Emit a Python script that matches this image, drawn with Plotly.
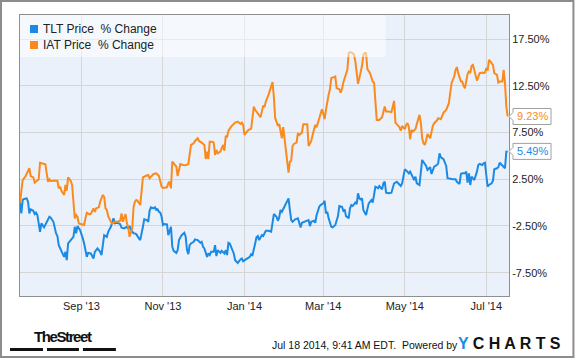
import plotly.graph_objects as go

# ---------------- data ----------------
tlt_name = "TLT Price\u00a0 % Change"
iat_name = "IAT Price\u00a0 % Change"

tlt_dates = [
    "2013-07-17", "2013-07-18", "2013-07-19", "2013-07-20", "2013-07-22", "2013-07-23", "2013-07-24", "2013-07-25",
    "2013-07-27", "2013-07-28", "2013-07-29", "2013-07-30", "2013-08-01", "2013-08-02", "2013-08-04", "2013-08-06",
    "2013-08-08", "2013-08-09", "2013-08-11", "2013-08-13", "2013-08-14", "2013-08-15", "2013-08-17", "2013-08-19",
    "2013-08-20", "2013-08-21", "2013-08-22", "2013-08-24", "2013-08-26", "2013-08-27", "2013-08-28", "2013-08-29",
    "2013-08-31", "2013-09-02", "2013-09-03", "2013-09-05", "2013-09-06", "2013-09-08", "2013-09-10", "2013-09-11",
    "2013-09-13", "2013-09-15", "2013-09-16", "2013-09-17", "2013-09-18", "2013-09-20", "2013-09-21", "2013-09-23",
    "2013-09-25", "2013-09-26", "2013-09-28", "2013-09-30", "2013-10-01", "2013-10-03", "2013-10-05", "2013-10-06",
    "2013-10-07", "2013-10-08", "2013-10-10", "2013-10-11", "2013-10-12", "2013-10-14", "2013-10-15", "2013-10-17",
    "2013-10-18", "2013-10-20", "2013-10-21", "2013-10-22", "2013-10-23", "2013-10-25", "2013-10-26", "2013-10-27",
    "2013-10-28", "2013-10-29", "2013-10-30", "2013-10-31", "2013-11-01", "2013-11-02", "2013-11-04", "2013-11-05",
    "2013-11-06", "2013-11-07", "2013-11-08", "2013-11-09", "2013-11-11", "2013-11-12", "2013-11-13", "2013-11-15",
    "2013-11-17", "2013-11-18", "2013-11-19", "2013-11-20", "2013-11-21", "2013-11-22", "2013-11-24", "2013-11-25",
    "2013-11-27", "2013-11-29", "2013-11-30", "2013-12-01", "2013-12-02", "2013-12-04", "2013-12-05", "2013-12-06",
    "2013-12-07", "2013-12-09", "2013-12-10", "2013-12-11", "2013-12-12", "2013-12-14", "2013-12-15", "2013-12-17",
    "2013-12-18", "2013-12-19", "2013-12-20", "2013-12-21", "2013-12-22", "2013-12-24", "2013-12-25", "2013-12-26",
    "2013-12-27", "2013-12-29", "2013-12-30", "2013-12-31", "2014-01-01", "2014-01-03", "2014-01-05", "2014-01-06",
    "2014-01-07", "2014-01-09", "2014-01-10", "2014-01-11", "2014-01-12", "2014-01-14", "2014-01-15", "2014-01-17",
    "2014-01-19", "2014-01-21", "2014-01-22", "2014-01-23", "2014-01-25", "2014-01-26", "2014-01-27", "2014-01-28",
    "2014-01-29", "2014-01-31", "2014-02-01", "2014-02-03", "2014-02-04", "2014-02-05", "2014-02-06", "2014-02-08",
    "2014-02-10", "2014-02-11", "2014-02-12", "2014-02-13", "2014-02-15", "2014-02-16", "2014-02-18", "2014-02-19",
    "2014-02-20", "2014-02-22", "2014-02-23", "2014-02-24", "2014-02-26", "2014-02-27", "2014-03-01", "2014-03-02",
    "2014-03-03", "2014-03-04", "2014-03-05", "2014-03-07", "2014-03-08", "2014-03-10", "2014-03-12", "2014-03-13",
    "2014-03-15", "2014-03-16", "2014-03-17", "2014-03-18", "2014-03-20", "2014-03-21", "2014-03-22", "2014-03-23",
    "2014-03-25", "2014-03-26", "2014-03-27", "2014-03-28", "2014-03-29", "2014-03-30", "2014-03-31", "2014-04-02",
    "2014-04-03", "2014-04-04", "2014-04-06", "2014-04-07", "2014-04-08", "2014-04-09", "2014-04-10", "2014-04-11",
    "2014-04-12", "2014-04-14", "2014-04-15", "2014-04-16", "2014-04-17", "2014-04-19", "2014-04-21", "2014-04-22",
    "2014-04-23", "2014-04-25", "2014-04-27", "2014-04-28", "2014-04-29", "2014-04-30", "2014-05-01", "2014-05-03",
    "2014-05-04", "2014-05-05", "2014-05-07", "2014-05-08", "2014-05-09", "2014-05-10", "2014-05-12", "2014-05-13",
    "2014-05-14", "2014-05-16", "2014-05-17", "2014-05-18", "2014-05-20", "2014-05-21", "2014-05-22", "2014-05-23",
    "2014-05-25", "2014-05-26", "2014-05-27", "2014-05-28", "2014-05-30", "2014-05-31", "2014-06-01", "2014-06-02",
    "2014-06-04", "2014-06-06", "2014-06-08", "2014-06-09", "2014-06-11", "2014-06-12", "2014-06-13", "2014-06-15",
    "2014-06-16", "2014-06-17", "2014-06-18", "2014-06-19", "2014-06-20", "2014-06-21", "2014-06-22", "2014-06-24",
    "2014-06-25", "2014-06-26", "2014-06-28", "2014-06-29", "2014-06-30", "2014-07-01", "2014-07-02", "2014-07-03",
    "2014-07-05", "2014-07-06", "2014-07-07", "2014-07-09", "2014-07-10", "2014-07-11", "2014-07-12", "2014-07-13",
    "2014-07-14", "2014-07-15", "2014-07-16", "2014-07-17",
]
tlt_values = [
    0.00, -1.15, 0.28, 0.39, 0.46, 0.10, -1.15, -0.72,
    -0.87, -1.22, -1.08, -1.33, -3.12, -2.22, -2.65, -2.05,
    -1.51, -1.62, -2.05, -3.29, -3.58, -4.55, -5.27, -5.81,
    -5.27, -6.16, -4.37, -4.01, -3.66, -2.59, -3.29, -2.51,
    -2.94, -3.83, -4.37, -5.81, -5.38, -5.44, -5.98, -5.27,
    -4.90, -5.27, -5.62, -4.55, -3.48, -3.66, -3.12, -2.59,
    -1.68, -2.22, -2.16, -2.30, -2.69, -2.76, -2.59, -2.76,
    -2.51, -2.87, -3.29, -3.30, -3.37, -3.83, -4.01, -2.59,
    -1.79, -1.87, -2.05, -0.87, -0.50, -0.61, -0.50, -0.79,
    -0.72, -0.98, -1.08, -1.51, -2.40, -2.30, -2.33, -3.48,
    -2.94, -2.59, -4.73, -5.16, -5.38, -5.09, -4.01, -3.48,
    -3.23, -3.66, -5.09, -5.52, -4.55, -4.37, -4.20, -3.94,
    -4.01, -4.30, -4.20, -4.73, -4.90, -5.81, -5.44, -5.62,
    -5.27, -5.27, -4.55, -5.73, -5.09, -5.38, -5.16, -5.44,
    -5.09, -5.62, -4.30, -4.37, -4.73, -5.44, -6.16, -6.34,
    -6.45, -6.08, -5.98, -6.27, -6.16, -6.02, -5.81, -5.52,
    -5.62, -4.37, -3.72, -3.58, -4.01, -3.48, -3.58, -3.02,
    -3.02, -3.12, -2.16, -1.22, -1.51, -1.94, -1.58, -0.79,
    -0.98, -0.44, 0.00, 0.46, -0.79, -1.87, -2.05, -1.79,
    -1.68, -2.16, -2.65, -2.16, -2.05, -1.94, -1.87, -2.51,
    -2.05, -1.94, -2.16, -1.33, -0.44, -0.26, -0.08, 0.20,
    -1.15, -0.98, -1.68, -2.59, -2.65, -2.40, -1.44, -0.36,
    -0.44, -0.87, -0.72, -1.44, -1.68, -0.61, -0.26, -0.36,
    0.00, -0.15, 1.00, 0.46, 0.35, 0.46, -0.79, -1.33,
    -0.61, -0.08, 0.28, 0.00, 0.82, 1.71, 1.64, 1.53,
    1.78, 1.43, 2.07, 2.24, 1.06, 1.00, 1.06, 1.53,
    2.07, 2.24, 2.00, 1.78, 2.07, 2.96, 3.57, 3.32,
    3.14, 3.32, 2.71, 2.42, 2.78, 2.07, 1.89, 2.96,
    4.57, 4.14, 3.93, 3.50, 3.79, 3.07, 3.50, 3.85,
    4.03, 4.22, 5.29, 4.86, 4.65, 4.28, 3.93, 2.61,
    2.53, 2.50, 2.50, 2.24, 2.00, 3.07, 3.14, 3.14,
    3.32, 2.14, 3.14, 1.89, 2.78, 2.61, 2.42, 3.32,
    4.03, 4.14, 4.03, 4.22, 4.28, 2.96, 1.71, 1.89,
    2.07, 2.35, 3.57, 3.68, 3.79, 4.28, 4.14, 4.03,
    3.85, 3.68, 5.46, 5.49,
]

iat_dates = [
    "2013-07-17", "2013-07-18", "2013-07-19", "2013-07-21", "2013-07-23", "2013-07-24", "2013-07-25", "2013-07-27",
    "2013-07-28", "2013-07-30", "2013-07-31", "2013-08-01", "2013-08-03", "2013-08-05", "2013-08-06", "2013-08-07",
    "2013-08-08", "2013-08-09", "2013-08-12", "2013-08-14", "2013-08-15", "2013-08-16", "2013-08-17", "2013-08-19",
    "2013-08-20", "2013-08-21", "2013-08-22", "2013-08-24", "2013-08-25", "2013-08-26", "2013-08-27", "2013-08-28",
    "2013-08-29", "2013-08-30", "2013-09-01", "2013-09-03", "2013-09-04", "2013-09-05", "2013-09-07", "2013-09-08",
    "2013-09-10", "2013-09-11", "2013-09-12", "2013-09-14", "2013-09-15", "2013-09-17", "2013-09-18", "2013-09-19",
    "2013-09-20", "2013-09-21", "2013-09-23", "2013-09-24", "2013-09-26", "2013-09-28", "2013-09-30", "2013-10-01",
    "2013-10-02", "2013-10-03", "2013-10-04", "2013-10-05", "2013-10-06", "2013-10-07", "2013-10-09", "2013-10-10",
    "2013-10-11", "2013-10-12", "2013-10-13", "2013-10-15", "2013-10-16", "2013-10-17", "2013-10-19", "2013-10-21",
    "2013-10-22", "2013-10-24", "2013-10-25", "2013-10-27", "2013-10-29", "2013-10-31", "2013-11-01", "2013-11-04",
    "2013-11-05", "2013-11-06", "2013-11-07", "2013-11-08", "2013-11-10", "2013-11-11", "2013-11-12", "2013-11-13",
    "2013-11-14", "2013-11-16", "2013-11-18", "2013-11-20", "2013-11-21", "2013-11-22", "2013-11-24", "2013-11-25",
    "2013-11-27", "2013-11-28", "2013-11-30", "2013-12-02", "2013-12-03", "2013-12-04", "2013-12-05", "2013-12-06",
    "2013-12-08", "2013-12-09", "2013-12-10", "2013-12-11", "2013-12-12", "2013-12-14", "2013-12-15", "2013-12-16",
    "2013-12-17", "2013-12-18", "2013-12-19", "2013-12-20", "2013-12-22", "2013-12-24", "2013-12-25", "2013-12-27",
    "2013-12-29", "2013-12-30", "2013-12-31", "2014-01-01", "2014-01-03", "2014-01-04", "2014-01-06", "2014-01-07",
    "2014-01-08", "2014-01-09", "2014-01-11", "2014-01-13", "2014-01-14", "2014-01-15", "2014-01-16", "2014-01-17",
    "2014-01-19", "2014-01-20", "2014-01-22", "2014-01-23", "2014-01-24", "2014-01-25", "2014-01-26", "2014-01-27",
    "2014-01-28", "2014-01-29", "2014-01-30", "2014-01-31", "2014-02-01", "2014-02-02", "2014-02-03", "2014-02-04",
    "2014-02-05", "2014-02-06", "2014-02-07", "2014-02-09", "2014-02-10", "2014-02-11", "2014-02-13", "2014-02-14",
    "2014-02-16", "2014-02-17", "2014-02-18", "2014-02-20", "2014-02-21", "2014-02-22", "2014-02-23", "2014-02-24",
    "2014-02-26", "2014-02-27", "2014-02-28", "2014-03-01", "2014-03-02", "2014-03-03", "2014-03-04", "2014-03-05",
    "2014-03-06", "2014-03-07", "2014-03-09", "2014-03-10", "2014-03-11", "2014-03-13", "2014-03-14", "2014-03-15",
    "2014-03-16", "2014-03-18", "2014-03-19", "2014-03-20", "2014-03-21", "2014-03-23", "2014-03-24", "2014-03-25",
    "2014-03-26", "2014-03-27", "2014-03-28", "2014-03-29", "2014-03-30", "2014-03-31", "2014-04-01", "2014-04-02",
    "2014-04-03", "2014-04-05", "2014-04-06", "2014-04-07", "2014-04-08", "2014-04-09", "2014-04-10", "2014-04-12",
    "2014-04-14", "2014-04-16", "2014-04-17", "2014-04-19", "2014-04-21", "2014-04-22", "2014-04-23", "2014-04-24",
    "2014-04-26", "2014-04-27", "2014-04-28", "2014-04-29", "2014-05-01", "2014-05-02", "2014-05-03", "2014-05-04",
    "2014-05-05", "2014-05-06", "2014-05-07", "2014-05-09", "2014-05-10", "2014-05-11", "2014-05-12", "2014-05-13",
    "2014-05-14", "2014-05-15", "2014-05-16", "2014-05-17", "2014-05-18", "2014-05-20", "2014-05-21", "2014-05-22",
    "2014-05-23", "2014-05-25", "2014-05-26", "2014-05-28", "2014-05-29", "2014-05-30", "2014-06-01", "2014-06-02",
    "2014-06-03", "2014-06-04", "2014-06-05", "2014-06-07", "2014-06-08", "2014-06-09", "2014-06-10", "2014-06-12",
    "2014-06-13", "2014-06-14", "2014-06-15", "2014-06-17", "2014-06-18", "2014-06-19", "2014-06-20", "2014-06-21",
    "2014-06-22", "2014-06-24", "2014-06-25", "2014-06-26", "2014-06-28", "2014-06-29", "2014-06-30", "2014-07-01",
    "2014-07-02", "2014-07-03", "2014-07-04", "2014-07-05", "2014-07-06", "2014-07-07", "2014-07-09", "2014-07-10",
    "2014-07-11", "2014-07-12", "2014-07-13", "2014-07-14", "2014-07-15", "2014-07-16", "2014-07-17",
]
iat_values = [
    0.00, 1.35, 2.42, 2.78, 3.50, 3.68, 2.85, 2.71,
    2.14, 2.42, 2.50, 4.28, 4.22, 4.11, 3.14, 2.24,
    2.50, 2.32, 2.35, 2.35, 1.53, 1.71, 1.28, 0.82,
    1.89, 1.28, 2.71, 2.32, 1.89, -0.08, -1.68, -1.33,
    -1.51, -2.22, -2.33, -2.40, -1.68, -1.08, -1.26, -1.22,
    -0.61, -0.98, -0.61, -0.50, 0.10, 0.82, 0.63, -0.61,
    -0.79, -1.44, -2.05, -2.22, -2.05, -2.05, -1.94, -1.15,
    -2.05, -1.51, -1.22, -2.22, -2.59, -3.66, -2.76, -0.50,
    0.10, 0.28, 0.20, -0.26, 1.35, 2.71, 2.85, 2.96,
    2.61, 2.85, 3.07, 3.14, 2.85, 1.71, 1.57, 1.64,
    2.07, 2.24, 1.53, 4.39, 4.03, 3.85, 2.85, 3.50,
    4.14, 4.03, 4.00, 4.14, 5.11, 6.18, 6.36, 6.61,
    6.90, 6.61, 6.43, 6.18, 4.68, 5.46, 4.68, 6.53,
    6.53, 6.43, 5.11, 5.64, 5.29, 5.46, 5.83, 6.18,
    5.57, 7.15, 7.01, 7.71, 8.14, 8.51, 8.57, 8.68,
    8.43, 8.57, 8.33, 7.25, 7.68, 7.79, 7.90, 9.05,
    10.29, 9.94, 9.58, 9.15, 9.75, 10.37, 10.23, 10.83,
    11.55, 12.08, 12.91, 11.36, 9.05, 8.68, 8.22, 8.43,
    7.79, 6.90, 8.08, 7.07, 5.64, 4.39, 3.21, 4.39,
    4.50, 6.07, 6.29, 6.43, 7.44, 7.25, 7.50, 8.40,
    8.43, 8.40, 6.07, 6.61, 7.25, 7.87, 8.33, 8.08,
    9.05, 9.55, 10.01, 9.55, 8.94, 9.94, 11.01, 11.55,
    12.16, 13.34, 13.44, 13.51, 12.26, 12.16, 11.79, 12.16,
    12.87, 13.80, 14.23, 16.02, 16.13, 16.02, 15.84, 15.12,
    13.87, 12.73, 13.34, 14.05, 14.66, 15.84, 16.02, 16.02,
    14.30, 13.87, 13.34, 12.97, 12.87, 10.47, 8.86, 8.86,
    9.15, 10.29, 9.75, 9.75, 9.69, 10.29, 10.90, 8.57,
    8.22, 8.08, 7.71, 8.22, 7.87, 8.33, 8.51, 8.14,
    6.79, 7.79, 7.61, 7.87, 8.43, 9.05, 9.40, 8.57,
    6.90, 6.36, 6.18, 6.72, 7.36, 6.90, 7.79, 8.22,
    8.51, 8.79, 9.05, 8.94, 9.29, 9.65, 9.94, 10.29,
    10.65, 11.73, 12.80, 13.51, 14.23, 14.52, 13.87, 12.97,
    12.97, 12.51, 12.26, 13.77, 14.05, 13.87, 14.66, 14.76,
    14.15, 13.08, 13.44, 13.87, 13.94, 13.87, 13.94, 14.41,
    14.15, 15.30, 15.12, 14.87, 14.76, 13.87, 13.69, 12.87,
    12.97, 12.97, 12.97, 14.23, 12.80, 10.29, 9.23,
]

y_tick_values = [-7.5, -2.5, 2.5, 7.5, 12.5, 17.5]
x_range = ["2013-07-17", "2014-07-18"]
y_range = [-10.0, 20.1]
first_tick = "2013-09-01"
footer_text = "Jul 18 2014, 9:41\u2009AM EDT.\u00a0 Powered by"

# ---------------- style ----------------
BLUE = "#1b8ae4"
ORANGE = "#fb8a1d"
FONT = "Liberation Sans, Arial, sans-serif"
W, H = 575, 358
ML, MR, MT, MB = 20, 65.5, 15, 62
PW, PH = W - ML - MR, H - MT - MB


def fx(p):  # page pixel x -> paper
    return (p - ML) / PW


def fy(p):  # page pixel y -> paper
    return (H - MB - p) / PH


def yfrac(v):
    return (v - y_range[0]) / (y_range[1] - y_range[0])


fig = go.Figure()
fig.add_trace(go.Scatter(x=tlt_dates, y=tlt_values, mode="lines", name=tlt_name,
                         line=dict(color=BLUE, width=2), showlegend=False, hoverinfo="skip"))
fig.add_trace(go.Scatter(x=iat_dates, y=iat_values, mode="lines", name=iat_name,
                         line=dict(color=ORANGE, width=2), showlegend=False, hoverinfo="skip"))

shapes = []
annotations = []

# legend panel (semi transparent, above the lines)
shapes.append(dict(type="rect", xref="paper", yref="paper", x0=0, x1=fx(386), y0=fy(57), y1=1,
                   fillcolor="rgba(255,255,255,0.5)", line=dict(width=0), layer="above"))
for i, (name, col) in enumerate([(tlt_name, BLUE), (iat_name, ORANGE)]):
    cy = 29 + 16 * i
    shapes.append(dict(type="rect", xref="paper", yref="paper", x0=fx(30), x1=fx(38),
                       y0=fy(cy + 4), y1=fy(cy - 4), fillcolor=col, line=dict(width=0), layer="above"))
    annotations.append(dict(xref="paper", yref="paper", x=fx(41.5), y=fy(cy), text=name,
                            xanchor="left", yanchor="middle", showarrow=False,
                            font=dict(family=FONT, size=12, color="#222")))

# last-value tags at the right edge
for vals, col in [(iat_values, ORANGE), (tlt_values, BLUE)]:
    last = vals[-1]
    shapes.append(dict(type="path", xref="paper", yref="paper", xsizemode="pixel", ysizemode="pixel",
                       xanchor=1, yanchor=yfrac(last),
                       path="M 0,0 L 4,-4 L 4,-8 L 42,-8 L 42,8 L 4,8 L 4,4 Z",
                       fillcolor="white", line=dict(color="#a0a0a0", width=1), layer="above"))
    annotations.append(dict(xref="paper", yref="y", x=1, xshift=23, y=last, text=f"{last:.2f}%",
                            xanchor="center", yanchor="middle", showarrow=False,
                            font=dict(family=FONT, size=11, color=col)))

# footer
annotations.append(dict(xref="paper", yref="paper", x=fx(63.5), y=fy(336),
                        text="<b><span style='font-stretch:condensed;letter-spacing:-1.4px'>TheStreet</span></b>",
                        xanchor="center", yanchor="middle", showarrow=False,
                        font=dict(family="Liberation Sans, Arial, sans-serif", size=15, color="#111")))
for a, b in [(10, 43), (47, 79), (83, 116)]:
    shapes.append(dict(type="rect", xref="paper", yref="paper", x0=fx(a), x1=fx(b), y0=fy(351), y1=fy(348),
                       fillcolor="#111", line=dict(width=0)))
annotations.append(dict(xref="paper", yref="paper", x=fx(460), y=fy(345), text=footer_text,
                        xanchor="right", yanchor="middle", showarrow=False,
                        font=dict(family=FONT, size=10.5, color="#111")))
annotations.append(dict(xref="paper", yref="paper", x=fx(564), y=fy(343.5),
                        text="<b><span style='color:#1a8be6'>Y</span> C H A R T S</b>",
                        xanchor="right", yanchor="middle", showarrow=False,
                        font=dict(family=FONT, size=16, color="#111")))

# outer frame
shapes.append(dict(type="rect", xref="paper", yref="paper", x0=fx(1), x1=fx(574), y0=fy(357), y1=fy(1),
                   line=dict(color="#8c8c8c", width=2), fillcolor="rgba(0,0,0,0)"))

axis_common = dict(showgrid=True, gridcolor="#d5d5d5", gridwidth=1, zeroline=False,
                   showline=True, linecolor="#8f8f8f", linewidth=1, mirror=True, ticks="",
                   tickfont=dict(family=FONT, size=11, color="#222"))

fig.update_layout(
    width=W, height=H,
    margin=dict(l=ML, r=MR, t=MT, b=MB, pad=0),
    paper_bgcolor="white", plot_bgcolor="#eaf1fb",
    showlegend=False,
    xaxis=dict(type="date", range=x_range, tick0=first_tick, dtick="M2", tickformat="%b '%y",
               **axis_common),
    yaxis=dict(range=y_range, side="right", tickvals=y_tick_values,
               ticktext=[f"{v:.2f}%" for v in y_tick_values], **axis_common),
    shapes=shapes, annotations=annotations,
    hovermode=False,
)

fig.write_html("out.html", config={"displayModeBar": False},
               post_script="document.body.style.margin='0';document.body.style.overflow='hidden';")
